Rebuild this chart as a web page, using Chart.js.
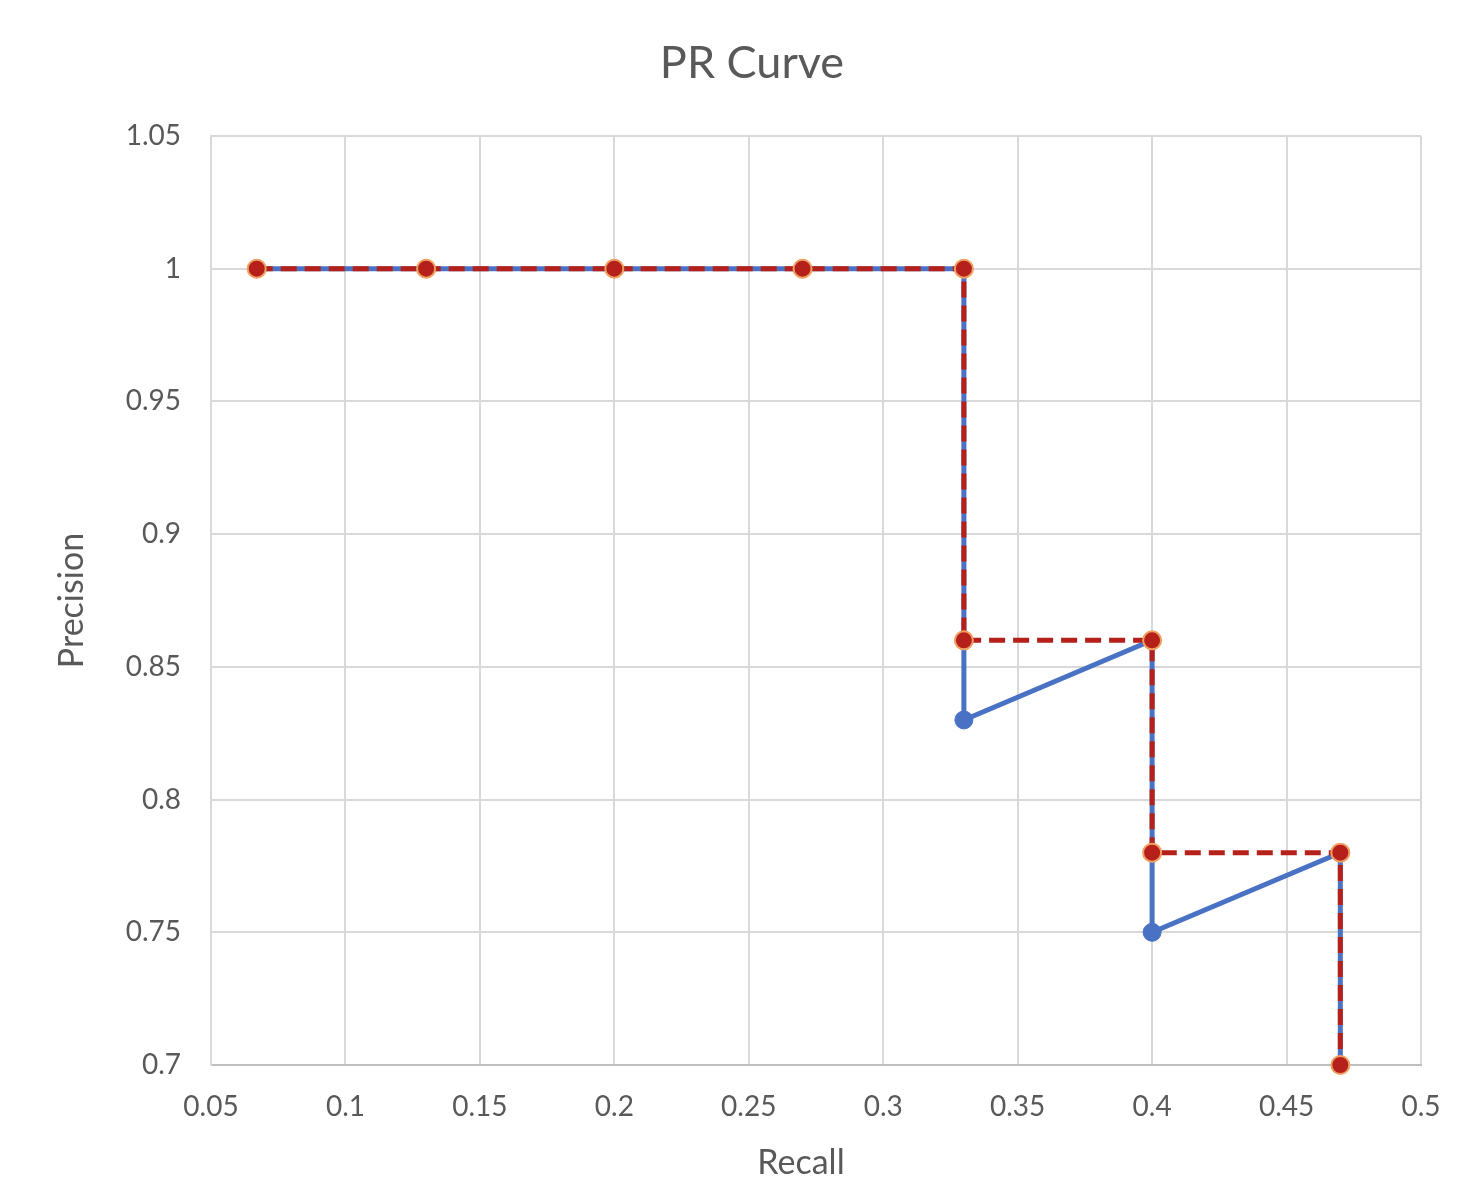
<!DOCTYPE html>
<html>
<head>
<meta charset="utf-8">
<title>PR Curve</title>
<script src="https://cdn.jsdelivr.net/npm/chart.js"></script>
<style>
  html, body { margin: 0; padding: 0; background: #ffffff; }
  canvas { display: block; }
</style>
</head>
<body>
<canvas id="chart" width="1478" height="1188"></canvas>
<script>
// raw precision / recall pairs (blue, solid)
const recallRaw = [0.067, 0.13, 0.2, 0.27, 0.33, 0.33, 0.4, 0.4, 0.47, 0.47];
const precisionRaw = [1, 1, 1, 1, 1, 0.83, 0.86, 0.75, 0.78, 0.7];

// interpolated curve (red, dashed)
const recallInterp = [0.067, 0.13, 0.2, 0.27, 0.33, 0.33, 0.4, 0.4, 0.47, 0.47];
const precisionInterp = [1, 1, 1, 1, 1, 0.86, 0.86, 0.78, 0.78, 0.7];

const xTicks = [0.05, 0.1, 0.15, 0.2, 0.25, 0.3, 0.35, 0.4, 0.45, 0.5];
const yTicks = [0.7, 0.75, 0.8, 0.85, 0.9, 0.95, 1, 1.05];

const FONT = "Lato, 'Open Sans', sans-serif";
const TEXT = "#595959";
const GRID = "#d9d9d9";

const toPoints = (xs, ys) => xs.map((x, i) => ({ x: x, y: ys[i] }));
const fmt = (v) => String(+Number(v).toFixed(2));

// chart title and x-axis title, placed like the Excel original
const titles = {
  id: "titles",
  afterDraw(chart) {
    const ctx = chart.ctx;
    ctx.save();
    ctx.fillStyle = TEXT;
    ctx.textAlign = "center";
    ctx.textBaseline = "middle";
    ctx.font = "45px " + FONT;
    ctx.fillText("PR Curve", 752, 63);
    ctx.font = "34px " + FONT;
    ctx.fillText("Recall", 801, 1163);
    ctx.restore();
  },
};

const chartConfig = {
  type: "scatter",
  data: {
    datasets: [
      {
        label: "Interpolated",
        data: toPoints(recallInterp, precisionInterp),
        showLine: true,
        clip: false,
        borderColor: "#b5211a",
        borderWidth: 5,
        borderDash: [16, 8],
        pointRadius: 9,
        pointBackgroundColor: "#b5211a",
        pointBorderColor: "#f0a060",
        pointBorderWidth: 2,
        order: 0,
      },
      {
        label: "Raw",
        data: toPoints(recallRaw, precisionRaw),
        showLine: true,
        clip: false,
        borderColor: "#4a72c4",
        borderWidth: 5,
        pointRadius: 9,
        pointBackgroundColor: "#4a72c4",
        pointBorderColor: "#4a72c4",
        pointBorderWidth: 1,
        order: 1,
      },
    ],
  },
  options: {
    responsive: false,
    animation: false,
    layout: { padding: { left: 0, right: 57, top: 136, bottom: 0 } },
    plugins: {
      legend: { display: false },
      tooltip: { enabled: false },
      title: { display: false },
    },
    scales: {
      x: {
        type: "linear",
        min: 0.05,
        max: 0.5,
        afterBuildTicks: (scale) => {
          scale.ticks = xTicks.map((v) => ({ value: v }));
        },
        afterFit: (scale) => {
          scale.height = 123;
        },
        ticks: {
          color: TEXT,
          font: { family: FONT, size: 28 },
          padding: 25,
          callback: (v) => fmt(v),
          maxRotation: 0,
        },
        grid: { color: GRID, lineWidth: 2, drawTicks: false },
        border: { color: "#bfbfbf", width: 2 },
      },
      y: {
        type: "linear",
        min: 0.7,
        max: 1.05,
        afterBuildTicks: (scale) => {
          scale.ticks = yTicks.map((v) => ({ value: v }));
        },
        afterFit: (scale) => {
          scale.width = 211;
        },
        ticks: {
          color: TEXT,
          font: { family: FONT, size: 28 },
          padding: 30,
          callback: (v) => fmt(v),
        },
        grid: { color: GRID, lineWidth: 2, drawTicks: false },
        border: { color: GRID, width: 2 },
        title: {
          display: true,
          text: "Precision",
          color: TEXT,
          font: { family: FONT, size: 34 },
          padding: { top: 52, bottom: 0 },
        },
      },
    },
  },
  plugins: [titles],
};

new Chart(document.getElementById("chart"), chartConfig);
</script>
</body>
</html>
